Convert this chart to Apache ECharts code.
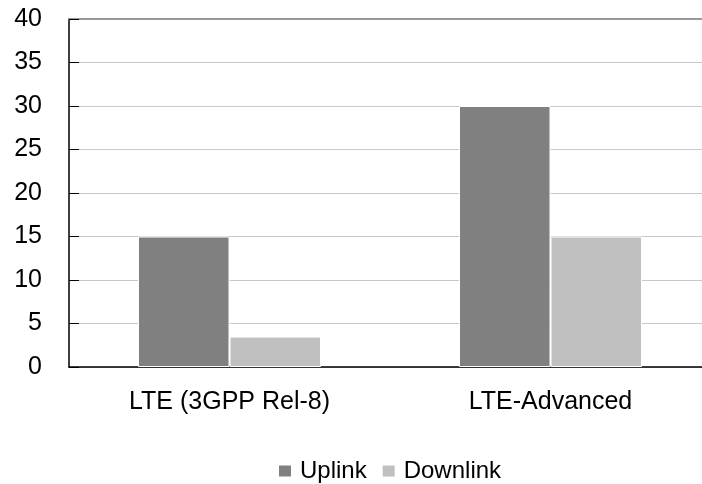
<!DOCTYPE html>
<html><head><meta charset="utf-8">
<script src="https://cdn.jsdelivr.net/npm/echarts@6/dist/echarts.min.js"></script>
<style>html,body{margin:0;padding:0;background:#fff}#c{width:702px;height:484px}</style>
</head><body><div id="c"></div>
<script>
const categories = ['LTE (3GPP Rel-8)', 'LTE-Advanced'];
const uplink = [15, 30];
const downlink = [3.5, 15];
const seriesNames = ['Uplink', 'Downlink'];

const chart = echarts.init(document.getElementById('c'), null, {renderer: 'canvas'});
const font = "'Liberation Sans', Arial, sans-serif";
chart.setOption({
  animation: false,
  grid: {left: 69, right: -9, top: 19, bottom: 117, outerBoundsMode: 'none', containLabel: false},
  legend: {
    top: 459, left: 277, padding: 0, itemWidth: 14, itemHeight: 13, itemGap: 14,
    icon: 'rect',
    textStyle: {fontSize: 24, color: '#000', fontFamily: font, padding: [0, 0, 0, 3]},
    data: seriesNames
  },
  xAxis: [{
    type: 'category', data: categories,
    axisLine: {lineStyle: {color: '#000', width: 1.5}},
    axisTick: {inside: true, length: 8, lineStyle: {color: '#000'}},
    axisLabel: {fontSize: 25, color: '#000', fontFamily: font, margin: 23}
  }, {
    type: 'category', data: categories, position: 'top',
    axisLine: {lineStyle: {color: '#999', width: 2}},
    axisTick: {show: false}, axisLabel: {show: false}
  }],
  yAxis: {
    type: 'value', min: 0, max: 40, interval: 5,
    axisLine: {show: true, lineStyle: {color: '#000', width: 1.5}},
    axisTick: {show: true, inside: true, length: 10, lineStyle: {color: '#000'}},
    axisLabel: {fontSize: 25, color: '#000', fontFamily: font, margin: 27},
    splitLine: {lineStyle: {color: '#c8c8c8', width: 1}}
  },
  series: [{
    name: seriesNames[0], type: 'bar', data: uplink,
    barGap: '0%', barCategoryGap: '43%',
    itemStyle: {color: '#808080', borderColor: '#fff', borderWidth: 1}
  }, {
    name: seriesNames[1], type: 'bar', data: downlink,
    itemStyle: {color: '#c0c0c0', borderColor: '#fff', borderWidth: 1}
  }]
});
</script></body></html>
